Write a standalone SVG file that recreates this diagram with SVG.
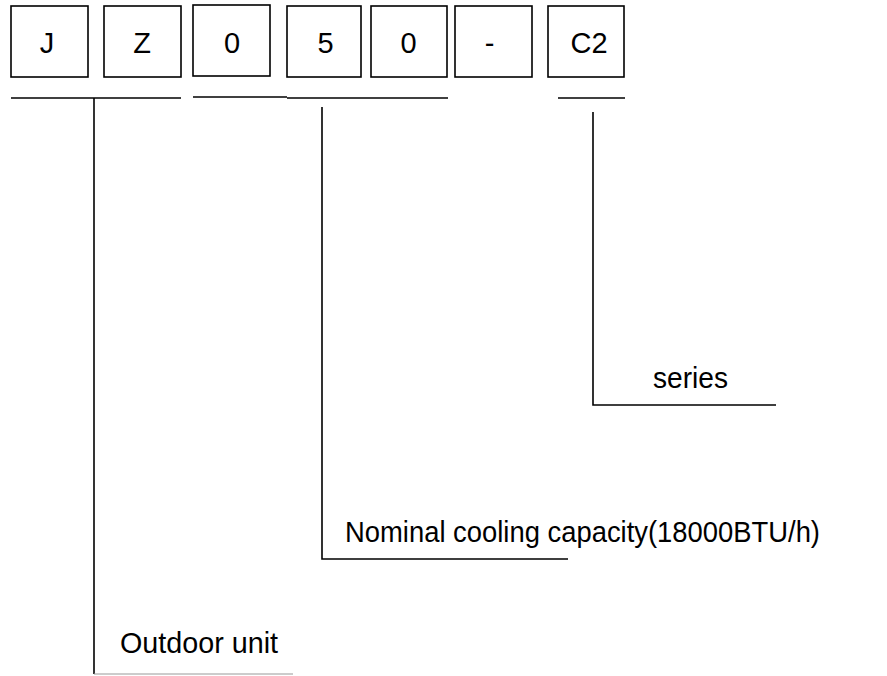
<svg xmlns="http://www.w3.org/2000/svg" width="887" height="676" viewBox="0 0 887 676">
<style>
.box{fill:#fff;stroke:#000;stroke-width:1.6}
.ln{stroke:#000;stroke-width:1.6;fill:none}
.t{font-family:"Liberation Sans",Arial,sans-serif;font-size:29px;fill:#000}
.c{text-anchor:middle}
</style>
<rect width="887" height="676" fill="#fff"/>
<g id="box-J"><rect class="box" x="11" y="6" width="77" height="71"/><text class="t c" x="47" y="53">J</text></g>
<g id="box-Z"><rect class="box" x="104" y="6" width="77" height="71"/><text class="t c" x="142" y="53">Z</text></g>
<g id="box-0a"><rect class="box" x="193" y="5" width="77" height="71"/><text class="t c" x="232" y="53">0</text></g>
<g id="box-5"><rect class="box" x="287" y="6" width="74" height="71"/><text class="t c" x="325.5" y="53">5</text></g>
<g id="box-0b"><rect class="box" x="371" y="6" width="76" height="71"/><text class="t c" x="408.5" y="53">0</text></g>
<g id="box-dash"><rect class="box" x="455" y="6" width="77" height="71"/><text class="t c" x="489.5" y="53">-</text></g>
<g id="box-C2"><rect class="box" x="548" y="6" width="76" height="71"/><text class="t c" x="589" y="53" font-size="30">C2</text></g>
<g id="connectors">
<line class="ln" x1="11" y1="98" x2="181" y2="98"/>
<line class="ln" x1="193" y1="97" x2="287" y2="97"/>
<line class="ln" x1="287" y1="98" x2="448" y2="98"/>
<line class="ln" x1="558" y1="98" x2="625" y2="98"/>
<polyline class="ln" points="94,98 94,674"/>
<line x1="94" y1="674" x2="293" y2="674" stroke="#999" stroke-width="1.2"/>
<polyline class="ln" points="322,107 322,559 568,559"/>
<polyline class="ln" points="593,112 593,405 776,405"/>
</g>
<g id="label-outdoor"><text class="t" x="120" y="653" font-size="27" textLength="158" lengthAdjust="spacingAndGlyphs">Outdoor unit</text></g>
<g id="label-nominal"><text class="t" x="345" y="542" font-size="32" textLength="475" lengthAdjust="spacingAndGlyphs">Nominal cooling capacity(18000BTU/h)</text></g>
<g id="label-series"><text class="t" x="653" y="388" font-size="32" textLength="75" lengthAdjust="spacingAndGlyphs">series</text></g>
</svg>
